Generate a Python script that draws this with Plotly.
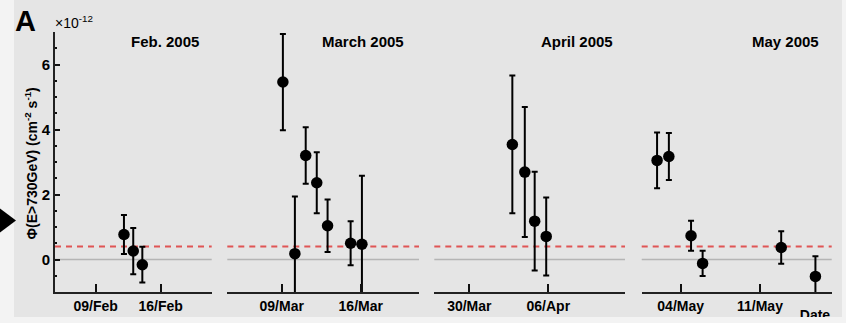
import plotly.graph_objects as go

W, H = 846, 323

# Integral flux above 730 GeV (units of 1e-12 cm^-2 s^-1) with 1-sigma errors
feb_dates = ["2005-02-12 01:00", "2005-02-13 01:00", "2005-02-14 00:30"]
feb_flux = [0.77, 0.26, -0.16]
feb_err = [0.60, 0.71, 0.55]

mar_dates = ["2005-03-09 02:30", "2005-03-10 04:00", "2005-03-11 03:00",
             "2005-03-12 02:30", "2005-03-13 01:30", "2005-03-15 02:30",
             "2005-03-16 02:30"]
mar_flux = [5.46, 0.18, 3.20, 2.36, 1.04, 0.50, 0.47]
mar_err = [1.48, 1.76, 0.87, 0.94, 0.81, 0.68, 2.11]

apr_dates = ["2005-04-02 19:30", "2005-04-03 22:00", "2005-04-04 19:00",
             "2005-04-05 19:30"]
apr_flux = [3.54, 2.69, 1.18, 0.71]
apr_err = [2.12, 2.00, 1.52, 1.20]

may_dates = ["2005-05-01 22:00", "2005-05-02 23:00", "2005-05-04 22:00",
             "2005-05-05 22:30", "2005-05-12 21:00", "2005-05-15 21:30"]
may_flux = [3.05, 3.17, 0.73, -0.12, 0.37, -0.52]
may_err = [0.86, 0.72, 0.46, 0.39, 0.50, 0.62]

month_titles = ["Feb. 2005", "March 2005", "April 2005", "May 2005"]
tick_dates = [["2005-02-09", "2005-02-16"], ["2005-03-09", "2005-03-16"],
              ["2005-03-30", "2005-04-06"], ["2005-05-04", "2005-05-11"]]
tick_labels = [["09/Feb", "16/Feb"], ["09/Mar", "16/Mar"],
               ["30/Mar", "06/Apr"], ["04/May", "11/May"]]
y_ticks = [0, 2, 4, 6]
threshold = 0.4  # dashed reference flux level

series = [(feb_dates, feb_flux, feb_err), (mar_dates, mar_flux, mar_err),
          (apr_dates, apr_flux, apr_err), (may_dates, may_flux, may_err)]

# ---- layout geometry (pixels) ----
x_ranges = [("2005-02-04 14:48", "2005-02-21 11:46"),
            ("2005-03-04 04:19", "2005-03-21 03:50"),
            ("2005-03-26 21:36", "2005-04-12 19:00"),
            ("2005-04-30 13:26", "2005-05-17 08:00")]
panel_px = [(55, 211.7), (227.3, 419), (434.3, 625), (641.7, 831.7)]
title_px = [(165, 42), (362.5, 42), (577, 42), (785, 42)]
plot_top, plot_bot = 32, 292


def px(x):
    return x / W


def py(y):
    return 1 - y / H


FONT = "Liberation Sans"
BG = "#e5e5e5"
PAGE = "#f3f3f3"

fig = go.Figure()

for i, (d, f, e) in enumerate(series):
    n = "" if i == 0 else str(i + 1)
    fig.add_trace(go.Scatter(
        x=d, y=f, mode="markers", xaxis="x" + n, yaxis="y" + n,
        marker=dict(color="black", size=11.5, symbol="circle"),
        error_y=dict(type="data", array=e, visible=True, color="black",
                     thickness=2, width=3),
        showlegend=False, hoverinfo="skip"))

layout = dict(
    width=W, height=H, autosize=False,
    margin=dict(l=0, r=0, t=0, b=0),
    paper_bgcolor=PAGE, plot_bgcolor="rgba(0,0,0,0)",
    font=dict(family=FONT, color="black"),
    showlegend=False,
)

ydom = [py(plot_bot), py(plot_top)]
for i in range(4):
    n = "" if i == 0 else str(i + 1)
    layout["xaxis" + n] = dict(
        type="date", domain=[px(panel_px[i][0]), px(panel_px[i][1])],
        range=list(x_ranges[i]), anchor="y" + n,
        tickvals=tick_dates[i], ticktext=tick_labels[i],
        ticks="inside", ticklen=8, tickwidth=1.5, tickcolor="#111",
        showline=True, linecolor="#222", linewidth=2,
        showgrid=False, zeroline=False,
        tickfont=dict(family=FONT, size=14, weight="bold", color="black"),
    )
    yax = dict(domain=ydom, range=[-1, 7], anchor="x" + n,
               showgrid=False, zeroline=False)
    if i == 0:
        yax.update(
            tickvals=y_ticks, ticks="inside", ticklen=5, tickwidth=1.5,
            tickcolor="#111", showline=True, linecolor="#222", linewidth=2,
            minor=dict(dtick=0.5, ticks="inside", ticklen=2, tickcolor="#111",
                       tickwidth=1.5, showgrid=False),
            tickfont=dict(family=FONT, size=15, weight="bold", color="black"),
        )
    else:
        yax.update(visible=False)
    layout["yaxis" + n] = yax

# overlay axes in pixel units, used to draw the clipped "Date" label
layout["xaxis5"] = dict(domain=[0, 1], range=[0, W], visible=False,
                        anchor="y5", fixedrange=True)
layout["yaxis5"] = dict(domain=[py(317), 1], range=[317, 0], visible=False,
                        anchor="x5", fixedrange=True)
fig.add_trace(go.Scatter(
    x=[815], y=[316], xaxis="x5", yaxis="y5", mode="text", text=["Date"],
    textposition="middle center", cliponaxis=True,
    textfont=dict(family=FONT, size=14, weight="bold", color="black"),
    showlegend=False, hoverinfo="skip"))

fig.update_layout(**layout)

shapes = [
    # grey figure panel
    dict(type="rect", xref="paper", yref="paper", layer="below",
         x0=px(14), x1=px(842), y0=py(317), y1=1,
         line=dict(width=0), fillcolor=BG),
    # pointer triangle at the left edge
    dict(type="path", xref="paper", yref="paper", layer="above",
         path=f"M {px(-2)},{py(207)} L {px(16)},{py(220.5)} L {px(-2)},{py(234)} Z",
         fillcolor="black", line=dict(width=0)),
]
for i in range(4):
    n = "" if i == 0 else str(i + 1)
    shapes.append(dict(type="line", xref=f"x{n} domain", yref="y" + n,
                       x0=0, x1=1, y0=0, y1=0, layer="below",
                       line=dict(color="#b5b5b5", width=1.5)))
    shapes.append(dict(type="line", xref=f"x{n} domain", yref="y" + n,
                       x0=0, x1=1, y0=threshold, y1=threshold, layer="below",
                       line=dict(color="#e05555", width=2, dash="6px,5px")))
fig.update_layout(shapes=shapes)

annotations = [
    dict(text="A", xref="paper", yref="paper", x=px(13), y=py(3),
         xanchor="left", yanchor="top", showarrow=False,
         font=dict(family=FONT, size=29, weight="bold", color="black")),
    dict(text="×10<sup>-12</sup>", xref="paper", yref="paper", x=px(53),
         y=py(33), xanchor="left", yanchor="bottom", showarrow=False,
         font=dict(family=FONT, size=14, color="black")),
    dict(text="Φ(E>730GeV) (cm<sup>-2</sup> s<sup>-1</sup>)", xref="paper",
         yref="paper", x=px(31.5), y=py(164), textangle=-90,
         xanchor="center", yanchor="middle", showarrow=False,
         font=dict(family=FONT, size=14, weight="bold", color="black")),
]
for (tx, ty), t in zip(title_px, month_titles):
    annotations.append(dict(text=t, xref="paper", yref="paper", x=px(tx),
                            y=py(ty), xanchor="center", yanchor="middle",
                            showarrow=False,
                            font=dict(family=FONT, size=15, weight="bold",
                                      color="black")))
fig.update_layout(annotations=annotations)

fig.write_html("out.html")
